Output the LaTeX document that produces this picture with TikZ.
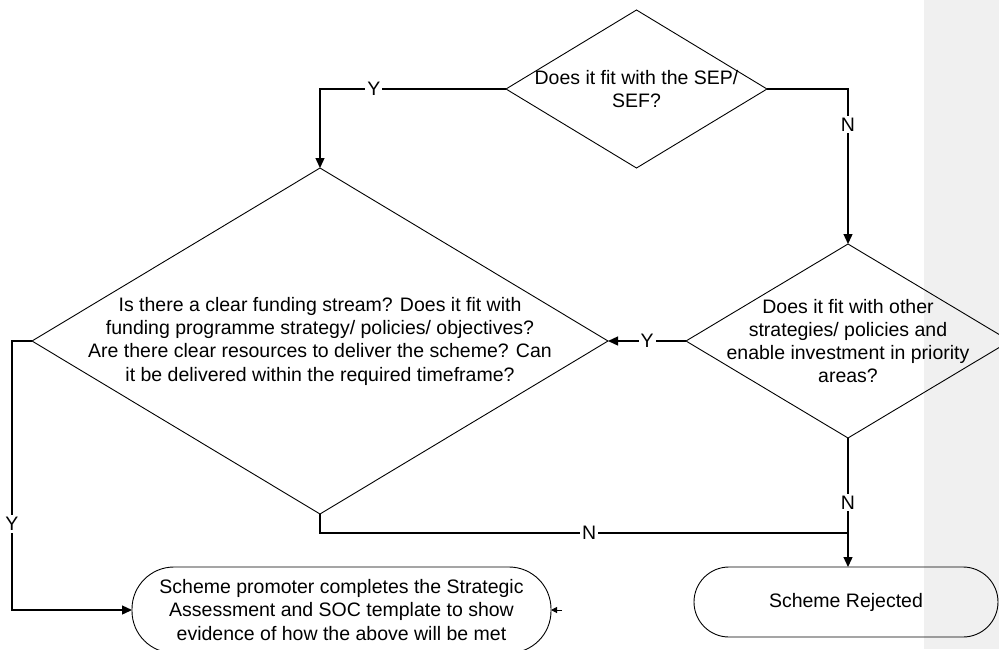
\documentclass[tikz,border=0pt]{standalone}
\usepackage{fontspec}
\setmainfont{Liberation Sans}
\usetikzlibrary{shapes.geometric,arrows.meta}
\definecolor{marginfill}{HTML}{F0F0F0}
\begin{document}
\begin{tikzpicture}[x=1pt,y=-1pt,
  every node/.style={font=\fontsize{19.5}{23.3}\selectfont},
  dia/.style={draw, diamond, inner sep=0pt, outer sep=0pt, line width=0.9pt},
  term/.style={draw, rectangle, inner sep=0pt, outer sep=0pt, line width=0.9pt, align=center},
  txt/.style={align=center, inner sep=0pt},
  conn/.style={line width=1.3pt},
  arr/.style={conn, -{Triangle[length=10pt,width=9pt]}},
  smallarr/.style={line width=1pt, -{Triangle[length=6pt,width=6pt]}},
  lbl/.style={fill=white, inner sep=2pt}
]
\useasboundingbox (0,0) rectangle (999,649);
\fill[marginfill] (924,0) rectangle (999,649);

% shapes
\node[dia, minimum width=261pt, minimum height=158pt] (d1) at (636.5,89) {};
\node[dia, minimum width=576pt, minimum height=346pt] (d2) at (320,341) {};
\node[dia, minimum width=324pt, minimum height=194pt] (d3) at (848,341) {};
\node[term, minimum width=419pt, minimum height=86pt, rounded corners=42pt] (b1) at (341.5,610)
  {Scheme promoter completes the Strategic\\Assessment and SOC template to show\\evidence of how the above will be met};
\node[term, minimum width=304pt, minimum height=70pt, rounded corners=35pt] (b2) at (846,602) {Scheme Rejected};

% texts
\node[txt] (t1) at (d1.center) {Does it fit with the SEP/\\SEF?};
\node[txt] (t2) at (d2.center) {Is there a clear funding stream? Does it fit with\\funding programme strategy/ policies/ objectives?\\Are there clear resources to deliver the scheme? Can\\it be delivered within the required timeframe?};
\node[txt] (t3) at (d3.center) {Does it fit with other\\strategies/ policies and\\enable investment in priority\\areas?};

% helper coordinates
\coordinate (lx) at (12,0);
\coordinate (st) at (562,610);

% connectors
\draw[arr] (d1.west) -- node[lbl, pos=0.71] {Y} (d1.west -| d2.north) -- (d2.north);
\draw[arr] (d1.east) -- (d1.east -| d3.north) -- node[lbl, pos=0.23] {N} (d3.north);
\draw[arr] (d3.west) -- node[lbl, pos=0.5] {Y} (d2.east);
\draw[arr] (d3.south) -- node[lbl, pos=0.5] {N} (d3.south |- b2.north);
\draw[conn] (d2.south) -- ++(0,19) coordinate (j0) -- node[lbl, pos=0.51] {N} (j0 -| d3.south);
\draw[arr] (d2.west) -- (d2.west -| lx) -- node[lbl, pos=0.68] {Y} (lx |- b1.west) -- (b1.west);
\draw[smallarr] (st) -- (b1.east);
\end{tikzpicture}
\end{document}
